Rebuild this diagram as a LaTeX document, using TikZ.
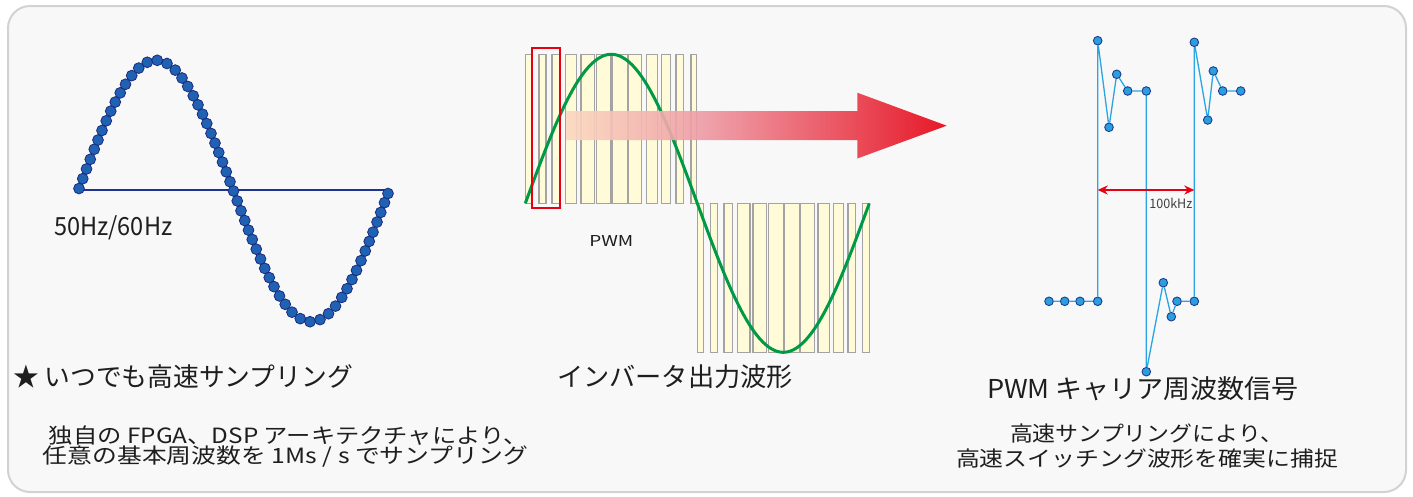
\documentclass[tikz,border=0pt]{standalone}
\usepackage{fontspec}
\setmainfont{Noto Sans CJK JP}
\usepackage{graphicx}
\usetikzlibrary{arrows.meta}
\definecolor{bgc}{HTML}{F8F8F8}
\definecolor{framec}{HTML}{D2D2D2}
\definecolor{txtc}{HTML}{1E1E1E}
\definecolor{axisblue}{HTML}{1E3291}
\definecolor{dotfill}{HTML}{1F62B4}
\definecolor{dotedge}{HTML}{1B2A7C}
\definecolor{barfill}{HTML}{FFFBD9}
\definecolor{baredge}{HTML}{A3A3A3}
\definecolor{pwmgreen}{HTML}{009A44}
\definecolor{boxred}{HTML}{E60012}
\definecolor{arA}{HTML}{FBD8C0}
\definecolor{arB}{HTML}{EE9AA4}
\definecolor{arC}{HTML}{E60012}
\definecolor{sigline}{HTML}{2AA5E4}
\definecolor{sigdot}{HTML}{2B9EE0}
\definecolor{sigedge}{HTML}{1D3C8E}
\pgfdeclarehorizontalshading{redarrow}{100bp}{color(0bp)=(arA); color(25bp)=(arA); color(43bp)=(arB); color(75bp)=(arC); color(100bp)=(arC)}
\newcommand\fitw[2]{\resizebox{#1}{\height}{#2}}
\tikzset{
  lbl/.style={inner sep=0pt, outer sep=0pt, text=txtc, anchor=base},
  bigtxt/.style={lbl, font=\fontsize{26}{30}\selectfont},
  midtxt/.style={lbl, font=\fontsize{21}{24}\selectfont},
  barbox/.style={draw=baredge, fill=barfill, line width=1.1pt},
  ldot/.style={fill=dotfill, draw=dotedge, line width=0.8pt},
  sdot/.style={circle, inner sep=0pt, minimum size=8.6pt, fill=sigdot, draw=sigedge, line width=0.9pt},
  sigpath/.style={draw=sigline, line width=1.3pt},
  declare function={fy(\t)=188.5+5*\t/309-129.5*sin(\t/309*360);},
}
\begin{document}
\begin{tikzpicture}[x=1pt,y=-1pt]
\useasboundingbox (0,0) rectangle (1413,496);
% frame
\draw[rounded corners=22pt, fill=bgc, draw=framec, line width=2pt] (8,6) rectangle (1406,492);

% ---------- left: sampled sine ----------
\draw[axisblue, line width=2pt] (79,189.5) -- (386,189.5);
% pass 1: arc length
\xdef\Lacc{0}\xdef\lx{0}\pgfmathsetmacro\tmpy{fy(0)}\xdef\ly{\tmpy}
\foreach \i in {1,...,1236}{
  \pgfmathsetmacro\cx{\i/4}
  \pgfmathsetmacro\cy{fy(\cx)}
  \pgfmathsetmacro\dd{veclen(\cx-\lx,\cy-\ly)}
  \pgfmathsetmacro\nL{\Lacc+\dd}
  \xdef\Lacc{\nL}\xdef\lx{\cx}\xdef\ly{\cy}
}
\pgfmathsetmacro\spc{\Lacc/60}
\xdef\spc{\spc}
% pass 2: dots equally spaced along the curve
\filldraw[ldot] (79,{fy(0)}) circle (5.4pt);
\xdef\acc{0}\xdef\cnt{0}\xdef\lx{0}\xdef\ly{\tmpy}
\foreach \i in {1,...,1236}{
  \pgfmathsetmacro\cx{\i/4}
  \pgfmathsetmacro\cy{fy(\cx)}
  \pgfmathsetmacro\dd{veclen(\cx-\lx,\cy-\ly)}
  \pgfmathsetmacro\na{\acc+\dd}
  \xdef\acc{\na}\xdef\lx{\cx}\xdef\ly{\cy}
  \ifdim\acc pt>\spc pt
    \ifnum\cnt<59
      \filldraw[ldot] ({79+\cx},\cy) circle (5.4pt);
      \pgfmathsetmacro\na{\acc-\spc}\xdef\acc{\na}
      \pgfmathtruncatemacro\nc{\cnt+1}\xdef\cnt{\nc}
    \fi
  \fi
}
\filldraw[ldot] (388,{fy(309)}) circle (5.4pt);
\node[lbl, anchor=base west, font=\fontsize{25}{28}\selectfont] (hz) at (54.3,235) {\fitw{118pt}{50Hz/60Hz}};
\node[bigtxt, anchor=base west] (star) at (13,386) {\fitw{340pt}{★ いつでも高速サンプリング}};
\node[midtxt] (l1) at (288.5,443) {\fitw{479pt}{独自の FPGA、DSP アーキテクチャにより、}};
\node[midtxt] (l2) at (285.5,463.5) {\fitw{485pt}{任意の基本周波数を 1Ms / s でサンプリング}};

% ---------- middle: PWM ----------
\foreach \a/\b in {525.3/531.6, 539/546, 552/559.3, 565.3/576.7, 581/594.3, 596.3/611,
                   612.7/627.3, 628.7/641.7, 646.3/657.3, 661.3/670.7, 676/683.3, 691/696.7}
  \draw[barbox] (\a,54.3) rectangle (\b,203.3);
\foreach \a/\b in {697.3/703.3, 710.7/717.3, 724/732.7, 737.7/750, 753/766.3, 768.7/783.3,
                   784.7/799.3, 800.7/814.3, 818/829.3, 833.3/843.3, 848/855.3, 862.7/869.3}
  \draw[barbox] (\a,203.3) rectangle (\b,352.3);
\draw[pwmgreen, line width=3pt] plot[domain=0:344, samples=160, smooth] ({525.3+\x},{203.3-149*sin(\x/344*360)});
\shade[shading=redarrow, opacity=0.9]
  (566.7,111) -- (857.3,111) -- (857.3,92.7) -- (946.7,125.7) -- (857.3,158.5) -- (857.3,140) -- (566.7,140) -- cycle;
\draw[boxred, line width=2pt] (531.7,48.3) rectangle (560.3,208.3);
\node[lbl, font=\fontsize{15}{18}\selectfont] (pwm) at (611.3,246.7) {\fitw{44pt}{PWM}};
\node[bigtxt] (inv) at (675,386) {\fitw{236pt}{インバータ出力波形}};

% ---------- right: carrier signal ----------
\foreach \n/\px/\py in {r1/1049/301.3, r2/1064.7/301.3, r3/1080/301.3, r4/1097.7/301.3,
    r5/1097.7/40.7, r6/1109/127.3, r7/1116.7/74.3, r8/1127.7/91, r9/1146.3/91,
    r10/1146.3/371.7, r11/1163.3/282.7, r12/1171.3/316.7, r13/1177/301.3, r14/1194.3/301.3,
    r15/1194.3/42.3, r16/1207.7/120, r17/1213.3/71, r18/1222.7/91, r19/1240.7/91}
  \node[sdot] (\n) at (\px,\py) {};
\draw[sigpath] (r1) -- (r2) -- (r3) -- (r4) -- (r5) -- (r6) -- (r7) -- (r8) -- (r9) -- (r10)
  -- (r11) -- (r12) -- (r13) -- (r14) -- (r15) -- (r16) -- (r17) -- (r18) -- (r19);
\coordinate (fa) at (1097.7,190);
\coordinate (fb) at (1194.3,190);
\draw[boxred, line width=2pt, {Stealth[length=10pt,width=9pt]}-{Stealth[length=10pt,width=9pt]}] (fa) -- (fb);
\node[lbl, font=\fontsize{13}{15}\selectfont, text=txtc!85] (khz) at (1170.8,208.3) {\fitw{43pt}{100kHz}};
\node[bigtxt] (carrier) at (1143,398.2) {\fitw{312pt}{PWM キャリア周波数信号}};
\node[midtxt] (r1t) at (1146.5,441.8) {\fitw{273pt}{高速サンプリングにより、}};
\node[midtxt] (r2t) at (1147,466.5) {\fitw{382pt}{高速スイッチング波形を確実に捕捉}};
\end{tikzpicture}
\end{document}
